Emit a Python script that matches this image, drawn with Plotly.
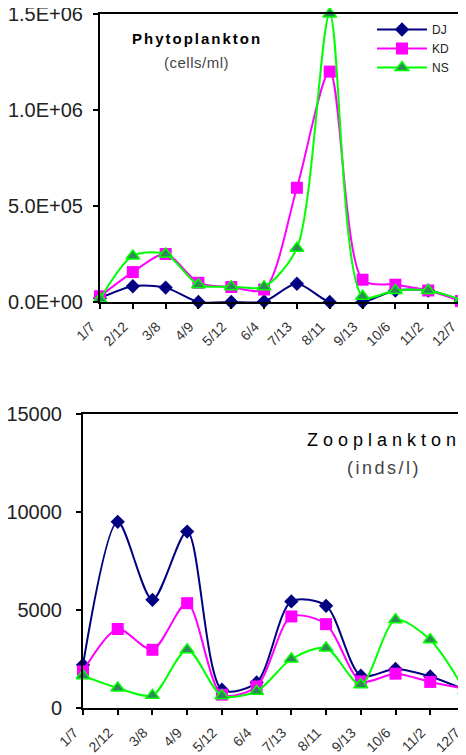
import plotly.graph_objects as go

# ---------------- data ----------------
dates = ["1/7", "2/12", "3/8", "4/9", "5/12", "6/4", "7/13", "8/11", "9/13", "10/6", "11/2", "12/7"]

phyto_dj = [2e4, 8.2e4, 7.5e4, 0, 0, 3e3, 9.5e4, 0, 0, 6e4, 6e4, 8e3]
phyto_kd = [3e4, 1.56e5, 2.5e5, 1.0e5, 7.8e4, 6.5e4, 5.95e5, 1.2e6, 1.16e5, 9e4, 6e4, 5e3]
phyto_ns = [1.5e4, 2.4e5, 2.5e5, 9e4, 8e4, 8e4, 2.8e5, 1.5e6, 3e4, 6e4, 6e4, 1.2e4]

zoo_dj = [2200, 9500, 5520, 9000, 930, 1300, 5440, 5215, 1650, 1990, 1610, 930]
zoo_kd = [1870, 4030, 2970, 5350, 680, 1100, 4670, 4280, 1360, 1750, 1330, 985]
zoo_ns = [1650, 1020, 645, 2970, 630, 850, 2500, 3060, 1190, 4500, 3480, 880]

phyto_tickvals = [0, 5e5, 1e6, 1.5e6]
phyto_ticktext = ["0.0E+00", "5.0E+05", "1.0E+06", "1.5E+06"]
zoo_tickvals = [0, 5000, 10000, 15000]
zoo_ticktext = ["0", "5000", "10000", "15000"]

# ---------------- styles ----------------
OFF = 8                      # default page body margin
W, H = 466 - OFF, 755 - OFF
NAVY = "#000080"
MAG = "#FF00FF"
LIME = "#00FF00"
SEA = "#2E8B57"
FONT = "Liberation Sans, Arial, sans-serif"

series = [
    ("DJ", NAVY, dict(symbol="diamond", size=11, color=NAVY)),
    ("KD", MAG, dict(symbol="square", size=12, color=MAG)),
    ("NS", LIME, dict(symbol="triangle-up", size=12, color=SEA, line=dict(color=LIME, width=1.5))),
]

fig = go.Figure()

for (name, col, mk), ys in zip(series, [phyto_dj, phyto_kd, phyto_ns]):
    fig.add_trace(go.Scatter(
        x=dates, y=ys, name=name, mode="lines+markers",
        line=dict(color=col, width=2, shape="spline", smoothing=0.8),
        marker=mk, cliponaxis=False, xaxis="x", yaxis="y",
    ))

for (name, col, mk), ys in zip(series, [zoo_dj, zoo_kd, zoo_ns]):
    fig.add_trace(go.Scatter(
        x=dates, y=ys, name=name, mode="lines+markers", showlegend=False,
        line=dict(color=col, width=2, shape="spline", smoothing=0.8),
        marker=mk, cliponaxis=False, xaxis="x2", yaxis="y2",
    ))

def px_x(p):
    return min(1.0, (p - OFF) / W)

def px_y(p):
    return 1 - (p - OFF) / H

axis_common = dict(
    showline=True, linecolor="black", linewidth=2,
    showgrid=False, zeroline=False, ticks="outside", ticklen=5,
    tickcolor="black", tickwidth=1.5, automargin=False,
    ticklabeloverflow="allow",
)

fig.update_layout(
    width=W, height=H,
    margin=dict(l=0, r=0, t=0, b=0),
    paper_bgcolor="white", plot_bgcolor="white",
    font=dict(family=FONT, color="#222"),
    xaxis=dict(
        domain=[px_x(100), px_x(461)], anchor="y", type="category", mirror=True,
        range=[0, 11], tickangle=-45, tickfont=dict(size=14, color="#333"),
        ticklabelstandoff=4, ticklabelshift=-9, **axis_common,
    ),
    yaxis=dict(
        domain=[px_y(302), px_y(14)], anchor="x", range=[0, 1.5e6], mirror=True,
        tickvals=phyto_tickvals, ticktext=phyto_ticktext,
        tickfont=dict(size=20, color="#222"), ticklabelstandoff=6, **axis_common,
    ),
    xaxis2=dict(
        domain=[px_x(83), 1.0], anchor="y2", type="category", mirror=True,
        range=[0, 11.03], tickangle=-45, tickfont=dict(size=14, color="#333"),
        ticklabelstandoff=4, ticklabelshift=-9, **axis_common,
    ),
    yaxis2=dict(
        domain=[px_y(708), px_y(414)], anchor="x2", range=[0, 15000], mirror=False,
        tickvals=zoo_tickvals, ticktext=zoo_ticktext,
        tickfont=dict(size=20, color="#222"), ticklabelstandoff=10, **axis_common,
    ),
    legend=dict(
        x=px_x(372), y=px_y(15), xanchor="left", yanchor="top",
        bgcolor="rgba(0,0,0,0)", font=dict(size=12, color="#222"),
        tracegroupgap=0, itemwidth=50,
    ),
    showlegend=True,
)

fig.add_annotation(
    x=px_x(197), y=px_y(38), xref="paper", yref="paper", showarrow=False,
    text='<span style="letter-spacing:2px"><b>Phytoplankton</b></span>',
    font=dict(size=15, color="black"), xanchor="center", yanchor="middle",
)
fig.add_annotation(
    x=px_x(196), y=px_y(62), xref="paper", yref="paper", showarrow=False,
    text='<span style="letter-spacing:0.5px">(cells/ml)</span>',
    font=dict(size=15, color="#444"), xanchor="center", yanchor="middle",
)
fig.add_annotation(
    x=px_x(305), y=px_y(440), xref="paper", yref="paper", showarrow=False,
    text='<span style="letter-spacing:5px">Zooplankton</span>',
    font=dict(size=18, color="black"), xanchor="left", yanchor="middle",
)
fig.add_annotation(
    x=px_x(384), y=px_y(468), xref="paper", yref="paper", showarrow=False,
    text='<span style="letter-spacing:2.5px">(inds/l)</span>',
    font=dict(size=18, color="#444"), xanchor="center", yanchor="middle",
)

fig.write_html("out.html")
